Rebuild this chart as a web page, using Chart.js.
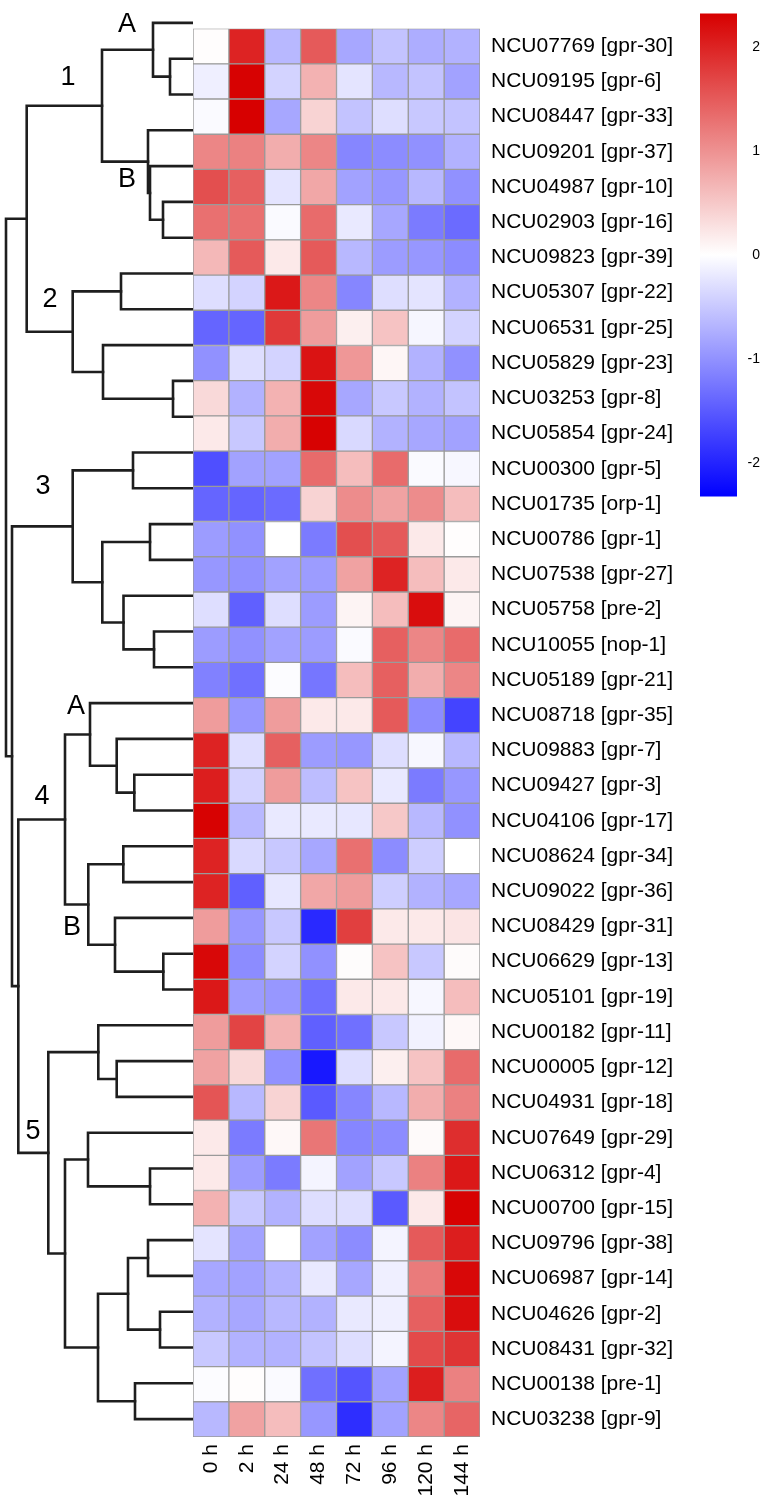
<!DOCTYPE html>
<html>
<head>
<meta charset="utf-8">
<script src="https://cdn.jsdelivr.net/npm/chart.js@4"></script>
<style>
  body { margin: 0; background: #fff; }
  #wrap { position: relative; width: 767px; height: 1504px; overflow: hidden; }
  #wrap canvas { position: absolute; }
</style>
</head>
<body>
<div id="wrap">
  <canvas id="dendro" style="left:0;top:5px;width:193px;height:1432px"></canvas>
  <canvas id="heat" style="left:193px;top:5px;width:574px;height:1499px"></canvas>
  <canvas id="scale" style="left:700px;top:5px;width:60px;height:500px"></canvas>
</div>
<script>
// rows, top to bottom
const geneIds = ['NCU07769','NCU09195','NCU08447','NCU09201','NCU04987','NCU02903','NCU09823','NCU05307','NCU06531','NCU05829',
  'NCU03253','NCU05854','NCU00300','NCU01735','NCU00786','NCU07538','NCU05758','NCU10055','NCU05189','NCU08718',
  'NCU09883','NCU09427','NCU04106','NCU08624','NCU09022','NCU08429','NCU06629','NCU05101','NCU00182','NCU00005',
  'NCU04931','NCU07649','NCU06312','NCU00700','NCU09796','NCU06987','NCU04626','NCU08431','NCU00138','NCU03238'];
const geneNames = ['gpr-30','gpr-6','gpr-33','gpr-37','gpr-10','gpr-16','gpr-39','gpr-22','gpr-25','gpr-23',
  'gpr-8','gpr-24','gpr-5','orp-1','gpr-1','gpr-27','pre-2','nop-1','gpr-21','gpr-35',
  'gpr-7','gpr-3','gpr-17','gpr-34','gpr-36','gpr-31','gpr-13','gpr-19','gpr-11','gpr-12',
  'gpr-18','gpr-29','gpr-4','gpr-15','gpr-38','gpr-14','gpr-2','gpr-32','pre-1','gpr-9'];
const timeLabels = ['0 h','2 h','24 h','48 h','72 h','96 h','120 h','144 h'];

// scaled expression, one array per time point
const t0 = [0.02,-0.15,-0.05,1.1,1.6,1.3,0.65,-0.3,-1.4,-1.0,0.35,0.2,-1.6,-1.4,-0.9,-0.95,-0.3,-0.9,-1.15,0.9,
  2.0,2.05,2.3,2.0,2.0,0.9,2.25,2.1,0.9,0.85,1.55,0.2,0.2,0.7,-0.25,-0.8,-0.7,-0.5,-0.03,-0.65];
const t2 = [2.0,2.3,2.35,1.15,1.45,1.3,1.5,-0.4,-1.4,-0.3,-0.7,-0.5,-0.85,-1.4,-1.0,-1.0,-1.45,-1.0,-1.3,-0.95,
  -0.3,-0.4,-0.65,-0.35,-1.45,-0.95,-1.05,-0.9,1.7,0.35,-0.65,-1.2,-0.9,-0.5,-0.85,-0.85,-0.8,-0.7,0.02,0.85];
const t24 = [-0.65,-0.4,-0.8,0.75,-0.25,-0.05,0.2,2.1,1.8,-0.4,0.7,0.75,-0.85,-1.35,0.0,-0.85,-0.3,-0.85,-0.03,0.9,
  1.45,0.9,-0.2,-0.5,-0.22,-0.5,-0.4,-0.95,0.7,-1.0,0.4,0.06,-1.2,-0.7,0.0,-0.7,-0.65,-0.7,-0.05,0.6];
const t48 = [1.5,0.7,0.4,1.1,0.8,1.35,1.5,1.1,0.9,2.15,2.25,2.3,1.35,0.4,-1.2,-0.9,-0.9,-0.9,-1.25,0.2,
  -0.9,-0.6,-0.2,-0.8,0.8,-1.95,-1.0,-1.3,-1.45,-2.1,-1.5,1.25,-0.1,-0.3,-0.85,-0.2,-0.7,-0.55,-1.3,-0.95];
const t72 = [-0.8,-0.25,-0.55,-1.1,-0.85,-0.2,-0.65,-1.1,0.15,0.95,-0.8,-0.35,0.6,1.05,1.6,0.85,0.1,-0.05,0.6,0.2,
  -0.95,0.55,-0.22,1.3,0.9,1.75,0.03,0.2,-1.3,-0.3,-1.1,-1.1,-0.85,-0.3,-1.05,-0.8,-0.2,-0.3,-1.55,-1.9];
const t96 = [-0.55,-0.65,-0.3,-1.05,-0.95,-0.8,-0.9,-0.3,0.55,0.08,-0.5,-0.7,1.35,0.85,1.5,2.0,0.6,1.45,1.45,1.5,
  -0.3,-0.2,0.5,-1.05,-0.45,0.2,0.55,0.2,-0.5,0.15,-0.65,-1.05,-0.5,-1.5,-0.1,-0.15,-0.15,-0.1,-0.85,-0.85];
const t120 = [-0.75,-0.55,-0.5,-1.0,-0.65,-1.2,-0.95,-0.25,-0.08,-0.7,-0.7,-0.8,-0.05,1.05,0.2,0.6,2.2,1.1,0.75,-1.05,
  -0.07,-1.2,-0.65,-0.45,-0.7,0.2,-0.5,-0.07,-0.12,0.55,0.75,0.05,1.15,0.2,1.5,1.2,1.45,1.65,2.05,1.1];
const t144 = [-0.7,-0.85,-0.55,-0.7,-1.0,-1.35,-1.05,-0.7,-0.4,-1.0,-0.55,-0.85,-0.07,0.6,0.02,0.2,0.1,1.35,1.1,-1.7,
  -0.65,-0.95,-1.0,0.0,-0.8,0.25,0.04,0.6,0.06,1.35,1.15,1.9,2.1,2.3,2.05,2.25,2.2,1.85,1.15,1.4];
const columns = [t0, t2, t24, t48, t72, t96, t120, t144];

// colour key
const scaleMin = -2.32, scaleMax = 2.32;
const scaleTicks = [-2, -1, 0, 1, 2];

// row clustering: [a, b, height]; ids < 40 are rows, 40+k is merge k
const merges = [
  [1, 2, 23], [0, 40, 40],                       // 1A
  [5, 6, 30], [4, 42, 43], [3, 43, 45],          // 1B
  [41, 44, 91],                                  // 1
  [7, 8, 72], [10, 11, 20], [9, 47, 90], [46, 48, 120.3],   // 2
  [45, 49, 166.3],
  [12, 13, 60], [14, 15, 43], [17, 18, 39], [16, 53, 69.5], [52, 54, 90.7], [51, 55, 120.3], // 3
  [21, 22, 58.7], [20, 57, 76.3], [19, 58, 103],             // 4A
  [23, 24, 69.7], [26, 27, 29.7], [25, 61, 78], [60, 62, 104.7], // 4B
  [59, 63, 128],                                 // 4
  [29, 30, 76.3], [28, 65, 94.7],
  [32, 33, 43], [31, 67, 105],
  [34, 35, 45], [36, 37, 33], [69, 70, 65], [38, 39, 58], [71, 72, 95],
  [68, 73, 128], [66, 74, 144.7],                // 5
  [64, 75, 174.7], [56, 76, 181], [50, 77, 187]
];
const clusterTags = [['A',127,25],['1',68,78],['B',127,180],['2',50,300],['3',43,487],
  ['A',76,707],['4',42,797],['B',72,928],['5',33,1132]];

const FONT = "'Liberation Sans', Arial, Helvetica, sans-serif";
Chart.defaults.font.family = FONT;
Chart.defaults.color = '#000';
Chart.defaults.animation = false;

function cellColor(v) {
  const t = Math.min(Math.abs(v) / scaleMax, 1);
  if (v >= 0) {
    return `rgb(${Math.round(255 - 40 * t)},${Math.round(255 * (1 - t))},${Math.round(255 * (1 - t))})`;
  }
  return `rgb(${Math.round(255 * (1 - t))},${Math.round(255 * (1 - t))},255)`;
}

// ---- dendrogram
const nRows = geneIds.length;
const nodeY = [], nodeH = [];
for (let i = 0; i < nRows; i++) { nodeY[i] = i; nodeH[i] = 0; }
const dendroSets = merges.map(([a, b, h], k) => {
  nodeY[nRows + k] = (nodeY[a] + nodeY[b]) / 2;
  nodeH[nRows + k] = h;
  return {
    data: [
      { x: nodeH[a], y: nodeY[a] }, { x: h, y: nodeY[a] },
      { x: h, y: nodeY[b] }, { x: nodeH[b], y: nodeY[b] }
    ],
    showLine: true,
    borderColor: '#1e1e1e',
    borderWidth: 2.6,
    pointRadius: 0,
    borderCapStyle: 'square',
    borderJoinStyle: 'miter',
    tension: 0
  };
});

const tagPlugin = {
  id: 'tags',
  afterDraw(chart) {
    const ctx = chart.ctx;
    ctx.save();
    ctx.font = '27px ' + FONT;
    ctx.fillStyle = '#000';
    ctx.textAlign = 'center';
    ctx.textBaseline = 'middle';
    clusterTags.forEach(([txt, x, y]) => ctx.fillText(txt, x, y - 5));
    ctx.restore();
  }
};

new Chart(document.getElementById('dendro'), {
  type: 'scatter',
  data: { datasets: dendroSets },
  options: {
    responsive: false,
    layout: { padding: 0 },
    clip: false,
    plugins: { legend: { display: false }, tooltip: { enabled: false } },
    scales: {
      x: { type: 'linear', min: 0, max: 193, reverse: true, display: false },
      y: { type: 'linear', min: -0.5, max: nRows - 0.5, reverse: true, display: false }
    }
  },
  plugins: [tagPlugin]
});

// ---- heatmap
const rowLabels = geneIds.map((id, i) => `${id} [${geneNames[i]}]`);
const heatSets = columns.map((vals, c) => ({
  data: vals.map(() => [c, c + 1]),
  backgroundColor: ctx => cellColor(vals[ctx.dataIndex]),
  borderColor: '#9a9a9a',
  borderWidth: 1,
  borderSkipped: false,
  grouped: false,
  barPercentage: 1,
  categoryPercentage: 1
}));

new Chart(document.getElementById('heat'), {
  type: 'bar',
  data: { labels: rowLabels, datasets: heatSets },
  options: {
    indexAxis: 'y',
    responsive: false,
    layout: { padding: 0 },
    plugins: { legend: { display: false }, tooltip: { enabled: false } },
    scales: {
      x: {
        type: 'linear', min: 0, max: 8,
        grid: { display: false, drawTicks: false },
        border: { display: false },
        afterBuildTicks: axis => { axis.ticks = timeLabels.map((_, i) => ({ value: i + 0.5 })); },
        afterFit: axis => { axis.height = 67; },
        ticks: {
          autoSkip: false, minRotation: 90, maxRotation: 90, padding: 7,
          font: { size: 21 },
          callback: v => timeLabels[Math.floor(v)]
        }
      },
      y: {
        position: 'right',
        grid: { display: false, drawTicks: false },
        border: { display: false },
        afterFit: axis => { axis.width = 287; },
        ticks: { padding: 11, font: { size: 21 }, autoSkip: false }
      }
    }
  }
});

// ---- colour key
new Chart(document.getElementById('scale'), {
  type: 'bar',
  data: { labels: [''], datasets: [{
    data: [[scaleMin, scaleMax]],
    barPercentage: 1, categoryPercentage: 1,
    backgroundColor: ctx => {
      const area = ctx.chart.chartArea;
      if (!area) return '#fff';
      const g = ctx.chart.ctx.createLinearGradient(0, area.top, 0, area.bottom);
      const n = 20;
      for (let i = 0; i <= n; i++) {
        g.addColorStop(i / n, cellColor(scaleMax - (scaleMax - scaleMin) * i / n));
      }
      return g;
    }
  }]},
  options: {
    responsive: false,
    layout: { padding: 0 },
    plugins: { legend: { display: false }, tooltip: { enabled: false } },
    scales: {
      x: { display: false },
      y: {
        position: 'right', min: scaleMin, max: scaleMax,
        grid: { display: false, drawTicks: false },
        border: { display: false },
        afterBuildTicks: axis => { axis.ticks = scaleTicks.map(v => ({ value: v })); },
        afterFit: axis => { axis.width = 23; },
        ticks: { crossAlign: 'far', padding: 0, font: { size: 14 } }
      }
    }
  }
});
</script>
</body>
</html>
